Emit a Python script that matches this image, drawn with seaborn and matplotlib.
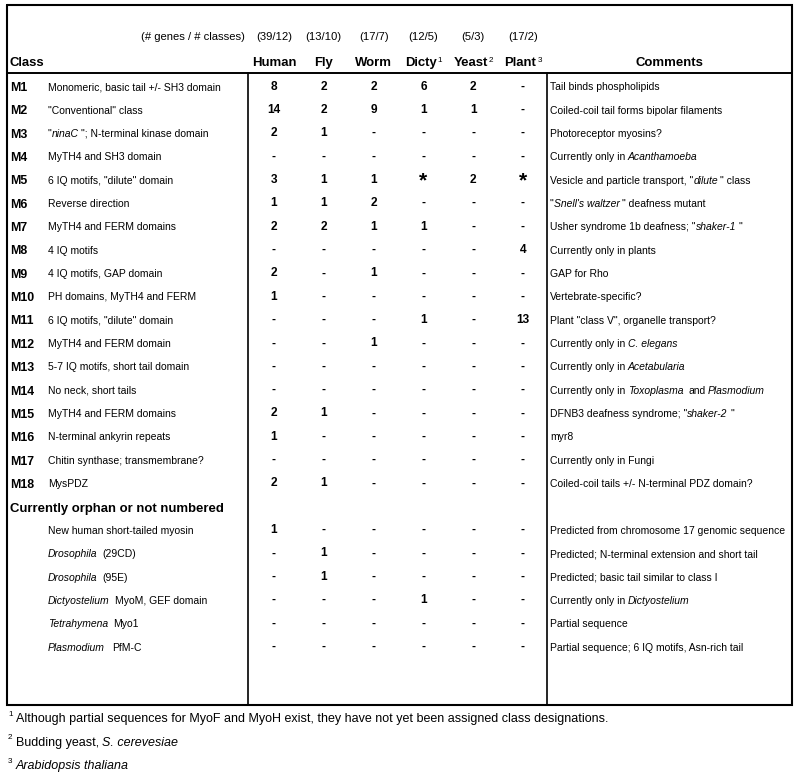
import numpy as np
import pandas as pd
import matplotlib
matplotlib.use("Agg")
import matplotlib.pyplot as plt
import seaborn as sns
from matplotlib import font_manager
from matplotlib.colors import ListedColormap

sns.set_theme(style="white")

# Arial Narrow look-alike if it exists, otherwise plain Liberation Sans a bit smaller
installed = {f.name for f in font_manager.fontManager.ttflist}
if "Liberation Sans Narrow" in installed:
    plt.rcParams["font.family"] = ["Liberation Sans Narrow", "DejaVu Sans"]
    SCALE = 1.0
else:
    plt.rcParams["font.family"] = ["Liberation Sans", "DejaVu Sans"]
    SCALE = 0.84

# ---- data -------------------------------------------------------------
organisms = ["Human", "Fly", "Worm", "Dicty", "Yeast", "Plant"]
organism_notes = ["", "", "", "1", "2", "3"]
gene_class_counts = ["(39/12)", "(13/10)", "(17/7)", "(12/5)", "(5/3)", "(17/2)"]

class_ids = ["M1", "M2", "M3", "M4", "M5", "M6", "M7", "M8", "M9", "M10",
             "M11", "M12", "M13", "M14", "M15", "M16", "M17", "M18"]
# text between underscores is italic
class_desc = [
    "Monomeric, basic tail +/- SH3 domain",
    '"Conventional" class',
    '"_ninaC_ "; N-terminal kinase domain',
    "MyTH4 and SH3 domain",
    '6 IQ motifs, "dilute" domain',
    "Reverse direction",
    "MyTH4 and FERM domains",
    "4 IQ motifs",
    "4 IQ motifs, GAP domain",
    "PH domains, MyTH4 and FERM",
    '6 IQ motifs, "dilute" domain',
    "MyTH4 and FERM domain",
    "5-7 IQ motifs, short tail domain",
    "No neck, short tails",
    "MyTH4 and FERM domains",
    "N-terminal ankyrin repeats",
    "Chitin synthase; transmembrane?",
    "MysPDZ",
]
class_comments = [
    "Tail binds phospholipids",
    "Coiled-coil tail forms bipolar filaments",
    "Photoreceptor myosins?",
    "Currently only in _Acanthamoeba_",
    'Vesicle and particle transport, "_dilute_ " class',
    '"_Snell\'s waltzer_ " deafness mutant',
    'Usher syndrome 1b deafness; "_shaker-1_ "',
    "Currently only in plants",
    "GAP for Rho",
    "Vertebrate-specific?",
    'Plant "class V", organelle transport?',
    "Currently only in _C. elegans_",
    "Currently only in _Acetabularia_",
    "Currently only in _Toxoplasma_  and _Plasmodium_",
    'DFNB3 deafness syndrome; "_shaker-2_ "',
    "myr8",
    "Currently only in Fungi",
    "Coiled-coil tails +/- N-terminal PDZ domain?",
]

orphan_title = "Currently orphan or not numbered"
orphan_desc = [
    "New human short-tailed myosin",
    "_Drosophila_  (29CD)",
    "_Drosophila_  (95E)",
    "_Dictyostelium_  MyoM, GEF domain",
    "_Tetrahymena_  Myo1",
    "_Plasmodium_   PfM-C",
]
orphan_comments = [
    "Predicted from chromosome 17 genomic sequence",
    "Predicted; N-terminal extension and short tail",
    "Predicted; basic tail similar to class I",
    "Currently only in _Dictyostelium_",
    "Partial sequence",
    "Partial sequence; 6 IQ motifs, Asn-rich tail",
]

# gene counts: 18 numbered classes followed by the 6 orphans
human = ["8", "14", "2", "-", "3", "1", "2", "-", "2", "1", "-", "-", "-", "-", "2", "1", "-", "2",
         "1", "-", "-", "-", "-", "-"]
fly = ["2", "2", "1", "-", "1", "1", "2", "-", "-", "-", "-", "-", "-", "-", "1", "-", "-", "1",
       "-", "1", "1", "-", "-", "-"]
worm = ["2", "9", "-", "-", "1", "2", "1", "-", "1", "-", "-", "1", "-", "-", "-", "-", "-", "-",
        "-", "-", "-", "-", "-", "-"]
dicty = ["6", "1", "-", "-", "*", "-", "1", "-", "-", "-", "1", "-", "-", "-", "-", "-", "-", "-",
         "-", "-", "-", "1", "-", "-"]
yeast = ["2", "1", "-", "-", "2", "-", "-", "-", "-", "-", "-", "-", "-", "-", "-", "-", "-", "-",
         "-", "-", "-", "-", "-", "-"]
plant = ["-", "-", "-", "-", "*", "-", "-", "4", "-", "-", "13", "-", "-", "-", "-", "-", "-", "-",
         "-", "-", "-", "-", "-", "-"]

footnotes = [
    ("1", "Although partial sequences for MyoF and MyoH exist, they have not yet been assigned class designations."),
    ("2", "Budding yeast, _S. cerevesiae_"),
    ("3", "_Arabidopsis thaliana_"),
]

# ---- layout -----------------------------------------------------------
W, H = 800, 779
BODY = 8.9 * SCALE
LABEL = 10.6 * SCALE
HEAD = 11.2 * SCALE
NUM = 10.2 * SCALE
FOOT = 10.7 * SCALE
PX = 100 / 72.0

ROW0, ROW_H = 86.5, 23.35
COL0, COL_W = 274.0, 49.8
BOX_L, BOX_R, BOX_T, BOX_B = 6.5, 792, 5, 704.5
HEAD_LINE, SPLIT1, SPLIT2 = 73, 248, 547


def baseline(yc, size):
    return yc + 0.36 * size * PX


def rich_text(ax, x, y, markup, size, weight="normal"):
    """Draw text with _italic_ runs, chaining each run after the previous one."""
    prev = None
    gap = 0.0
    space = 0.24 * size
    for i, part in enumerate(markup.split("_")):
        if part.strip() == "":
            gap += len(part) * space
            continue
        lead = len(part) - len(part.lstrip(" "))
        trail = len(part) - len(part.rstrip(" "))
        gap += lead * space
        style = "italic" if i % 2 else "normal"
        if prev is None:
            prev = ax.text(x, y, part.strip(), fontsize=size, fontstyle=style,
                           fontweight=weight, ha="left", va="baseline", color="black")
        else:
            prev = ax.annotate(part.strip(), xy=(1, 0), xycoords=prev, xytext=(gap, 0),
                               textcoords="offset points", fontsize=size, fontstyle=style,
                               fontweight=weight, ha="left", va="bottom", color="black")
        gap = trail * space
    return prev


fig = plt.figure(figsize=(W / 100, H / 100), dpi=100)
ax = fig.add_axes([0, 0, 1, 1])
ax.set_xlim(0, W)
ax.set_ylim(H, 0)
ax.set_axis_off()

# frame and rules
ax.plot([BOX_L, BOX_R, BOX_R, BOX_L, BOX_L], [BOX_T, BOX_T, BOX_B, BOX_B, BOX_T],
        color="black", lw=1.5, solid_joinstyle="miter")
ax.plot([BOX_L, BOX_R], [HEAD_LINE, HEAD_LINE], color="black", lw=1.4)
ax.plot([SPLIT1, SPLIT1], [HEAD_LINE, BOX_B], color="black", lw=1.2)
ax.plot([SPLIT2, SPLIT2], [HEAD_LINE, BOX_B], color="black", lw=1.2)

# header
ax.text(245, baseline(36, BODY + 0.6), "(# genes / # classes)", fontsize=BODY + 0.6,
        ha="right", va="baseline", color="black")
ax.text(10, baseline(61, HEAD), "Class", fontsize=HEAD, fontweight="bold",
        ha="left", va="baseline", color="black")
ax.text(669, baseline(61, HEAD), "Comments", fontsize=HEAD, fontweight="bold",
        ha="center", va="baseline", color="black")
for j, (org, note, cnt) in enumerate(zip(organisms, organism_notes, gene_class_counts)):
    xc = COL0 + j * COL_W
    ax.text(xc, baseline(36, BODY + 0.6), cnt, fontsize=BODY + 0.6,
            ha="center", va="baseline", color="black")
    t = ax.text(xc - (2.5 if note else 0), baseline(61, HEAD), org, fontsize=HEAD,
                fontweight="bold", ha="center", va="baseline", color="black")
    if note:
        ax.annotate(note, xy=(1, 1), xycoords=t, xytext=(0.6, -0.5),
                    textcoords="offset points", fontsize=7 * SCALE,
                    ha="left", va="top", color="black")

# numbered classes
for i, (cid, desc, com) in enumerate(zip(class_ids, class_desc, class_comments)):
    yc = ROW0 + i * ROW_H
    ax.text(10, baseline(yc, LABEL), cid, fontsize=LABEL, fontweight="bold",
            ha="left", va="baseline", color="black")
    rich_text(ax, 48, baseline(yc, BODY), desc, BODY)
    rich_text(ax, 550, baseline(yc, BODY), com, BODY)

# orphan block
n_cls = len(class_ids)
ax.text(10, baseline(ROW0 + n_cls * ROW_H, HEAD), orphan_title, fontsize=HEAD,
        fontweight="bold", ha="left", va="baseline", color="black")
for k, (desc, com) in enumerate(zip(orphan_desc, orphan_comments)):
    yc = ROW0 + (n_cls + 1 + k) * ROW_H
    rich_text(ax, 48, baseline(yc, BODY), desc, BODY)
    rich_text(ax, 550, baseline(yc, BODY), com, BODY)

# footnotes
for k, (mark, note) in enumerate(footnotes):
    yc = 718 + k * 23.3
    ax.text(8, yc - 7, mark, fontsize=7 * SCALE, ha="left", va="top", color="black")
    rich_text(ax, 16, baseline(yc, FOOT), note, FOOT)

# ---- count grid drawn as an annotated, invisible heatmap ---------------
counts = pd.DataFrame({"Human": human, "Fly": fly, "Worm": worm,
                       "Dicty": dicty, "Yeast": yeast, "Plant": plant})
blank = pd.DataFrame([[""] * len(organisms)], columns=counts.columns)
grid = pd.concat([counts.iloc[:n_cls], blank, counts.iloc[n_cls:]], ignore_index=True)
mask = (grid == "").to_numpy()
n_rows = len(grid)

x0 = COL0 - COL_W / 2
y0 = ROW0 - ROW_H / 2
hx = fig.add_axes([x0 / W, 1 - (y0 + n_rows * ROW_H) / H,
                   len(organisms) * COL_W / W, n_rows * ROW_H / H])
sns.heatmap(np.zeros(grid.shape), mask=mask, annot=grid.to_numpy(), fmt="",
            cmap=ListedColormap([(1, 1, 1, 0)]), cbar=False,
            xticklabels=False, yticklabels=False, ax=hx,
            annot_kws={"fontsize": NUM, "fontweight": "bold", "color": "black"})
hx.patch.set_alpha(0)
hx.set_axis_off()
for t in hx.texts:
    if t.get_text() == "*":
        t.set_fontsize(NUM * 1.8)
        x, y = t.get_position()
        t.set_position((x, y + 0.06))

fig.savefig("out.png", dpi=100, facecolor="white")
